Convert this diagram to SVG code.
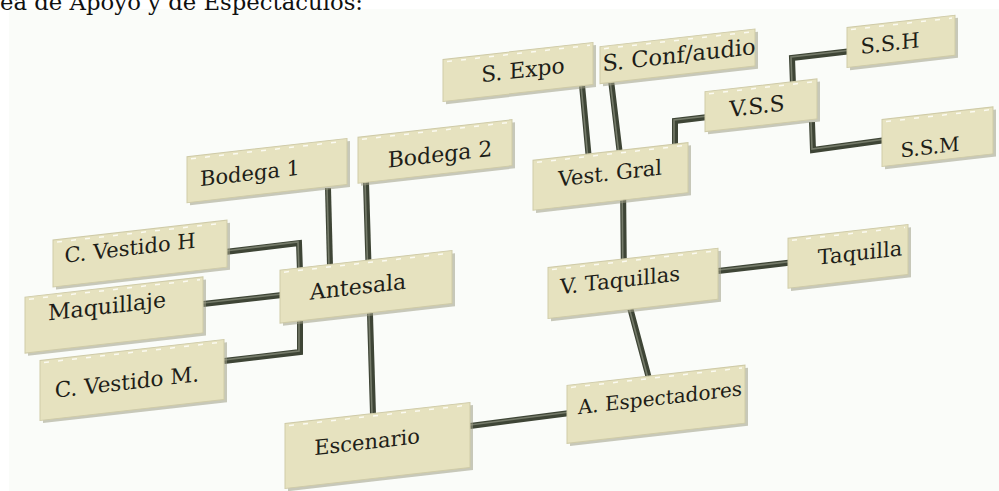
<svg xmlns="http://www.w3.org/2000/svg" width="999" height="491" viewBox="0 0 999 491">
<defs>
<style>
.bg{fill:#fafcf9}
.title{font-family:"DejaVu Serif","Liberation Serif",serif;font-size:23px;fill:#111}
.sh{fill:#9d9c85;opacity:.55}
.bx{fill:#e6e2bf;stroke:#cfcba8;stroke-width:1}
.hl{stroke:#fbfaf0;stroke-width:1.5;stroke-dasharray:5 9;fill:none}
.lb{font-family:"DejaVu Serif","Liberation Serif",serif;font-size:21px;fill:#1e1e18;text-anchor:middle}
.co{fill:none;stroke:#3e4536;stroke-width:6;stroke-linejoin:miter}
.ci{fill:none;stroke:#757b6a;stroke-width:1.6;stroke-linejoin:miter}
</style>
</defs>
<rect x="0" y="0" width="999" height="491" fill="#ffffff"/>
<rect class="bg" x="9" y="9" width="990" height="482"/>
<text class="title" x="0" y="10" textLength="363" lengthAdjust="spacingAndGlyphs">ea de Apoyo y de Espectáculos:</text>

<g id="connectors">
<g class="co">
<path d="M328,188 L330,266"/>
<path d="M366,182 L373,414"/>
<path d="M225,252 L299,243 L300,272"/>
<path d="M203,304 L282,295"/>
<path d="M224,361 L300,352 L300,318"/>
<path d="M582,85 L589,160"/>
<path d="M611,80 L623,180 L624,285 L651,386"/>
<path d="M675,150 L675,121 L708,117"/>
<path d="M793,85 L792,58 L852,51"/>
<path d="M812,122 L813,150 L886,140"/>
<path d="M718,271 L795,262"/>
<path d="M470,426 L570,413"/>
</g>
<g class="ci">
<path d="M327,188 L329,266"/>
<path d="M365,182 L372,414"/>
<path d="M225,251 L298,242 L299,272"/>
<path d="M203,303 L282,294"/>
<path d="M224,360 L299,351 L299,318"/>
<path d="M581,85 L588,160"/>
<path d="M610,80 L622,180 L623,285 L650,386"/>
<path d="M674,150 L674,120 L708,116"/>
<path d="M792,85 L791,57 L852,50"/>
<path d="M811,122 L812,149 L886,139"/>
<path d="M718,270 L795,261"/>
<path d="M470,425 L570,412"/>
</g>
</g>

<g id="nodes" transform="skewY(-6.5)">
<g id="sexpo"><rect class="sh" x="446" y="113" width="150" height="42"/><rect class="bx" x="443" y="110" width="150" height="42"/><line class="hl" x1="447" y1="112.5" x2="590" y2="112.5"/><text class="lb" x="523" y="137" style="font-size:21.8px">S. Expo</text></g>
<g id="sconf"><rect class="sh" x="603" y="118" width="155" height="37"/><rect class="bx" x="600" y="115" width="155" height="37"/><line class="hl" x1="604" y1="117.5" x2="752" y2="117.5"/><text class="lb" x="679" y="140" style="font-size:22.5px">S. Conf/audio</text></g>
<g id="ssh"><rect class="sh" x="850" y="127" width="108" height="40"/><rect class="bx" x="847" y="124" width="108" height="40"/><line class="hl" x1="851" y1="126.5" x2="952" y2="126.5"/><text class="lb" x="890" y="152">S.S.H</text></g>
<g id="vss"><rect class="sh" x="708" y="175" width="112" height="40"/><rect class="bx" x="705" y="172" width="112" height="40"/><line class="hl" x1="709" y1="174.5" x2="814" y2="174.5"/><text class="lb" x="757" y="200" style="font-size:22px">V.S.S</text></g>
<g id="ssm"><rect class="sh" x="885" y="223" width="111" height="47"/><rect class="bx" x="882" y="220" width="111" height="47"/><line class="hl" x1="886" y1="222.5" x2="990" y2="222.5"/><text class="lb" x="930" y="260" style="font-size:20px">S.S.M</text></g>
<g id="vestgral"><rect class="sh" x="536" y="224" width="155" height="50"/><rect class="bx" x="533" y="221" width="155" height="50"/><line class="hl" x1="537" y1="223.5" x2="685" y2="223.5"/><text class="lb" x="610" y="250">Vest. Gral</text></g>
<g id="bodega1"><rect class="sh" x="190" y="181" width="160" height="46"/><rect class="bx" x="187" y="178" width="160" height="46"/><line class="hl" x1="191" y1="180.5" x2="344" y2="180.5"/><text class="lb" x="250" y="209">Bodega 1</text></g>
<g id="bodega2"><rect class="sh" x="361" y="181" width="154" height="46"/><rect class="bx" x="358" y="178" width="154" height="46"/><line class="hl" x1="362" y1="180.5" x2="509" y2="180.5"/><text class="lb" x="440" y="212" style="font-size:22px">Bodega 2</text></g>
<g id="cvestidoh"><rect class="sh" x="56" y="249" width="174" height="47"/><rect class="bx" x="53" y="246" width="174" height="47"/><line class="hl" x1="57" y1="248.5" x2="224" y2="248.5"/><text class="lb" x="130" y="270">C. Vestido H</text></g>
<g id="maquillaje"><rect class="sh" x="28" y="303" width="178" height="56"/><rect class="bx" x="25" y="300" width="178" height="56"/><line class="hl" x1="29" y1="302.5" x2="200" y2="302.5"/><text class="lb" x="107" y="326" style="font-size:22px">Maquillaje</text></g>
<g id="cvestidom"><rect class="sh" x="43" y="368" width="184" height="60"/><rect class="bx" x="40" y="365" width="184" height="60"/><line class="hl" x1="44" y1="367.5" x2="221" y2="367.5"/><text class="lb" x="127" y="404" style="font-size:21.5px">C. Vestido M.</text></g>
<g id="antesala"><rect class="sh" x="283" y="305" width="172" height="53"/><rect class="bx" x="280" y="302" width="172" height="53"/><line class="hl" x1="284" y1="304.5" x2="449" y2="304.5"/><text class="lb" x="358" y="335" style="font-size:22px">Antesala</text></g>
<g id="vtaquillas"><rect class="sh" x="551" y="333" width="170" height="51"/><rect class="bx" x="548" y="330" width="170" height="51"/><line class="hl" x1="552" y1="332.5" x2="715" y2="332.5"/><text class="lb" x="620" y="358">V. Taquillas</text></g>
<g id="taquilla"><rect class="sh" x="791" y="331" width="120" height="50"/><rect class="bx" x="788" y="328" width="120" height="50"/><line class="hl" x1="792" y1="330.5" x2="905" y2="330.5"/><text class="lb" x="860" y="358">Taquilla</text></g>
<g id="escenario"><rect class="sh" x="288" y="459" width="185" height="65"/><rect class="bx" x="285" y="456" width="185" height="65"/><line class="hl" x1="289" y1="458.5" x2="467" y2="458.5"/><text class="lb" x="367" y="491">Escenario</text></g>
<g id="aespectadores"><rect class="sh" x="570" y="453" width="178" height="58"/><rect class="bx" x="567" y="450" width="178" height="58"/><line class="hl" x1="571" y1="452.5" x2="742" y2="452.5"/><text class="lb" x="660" y="480" style="font-size:20px">A. Espectadores</text></g>
</g>
</svg>
